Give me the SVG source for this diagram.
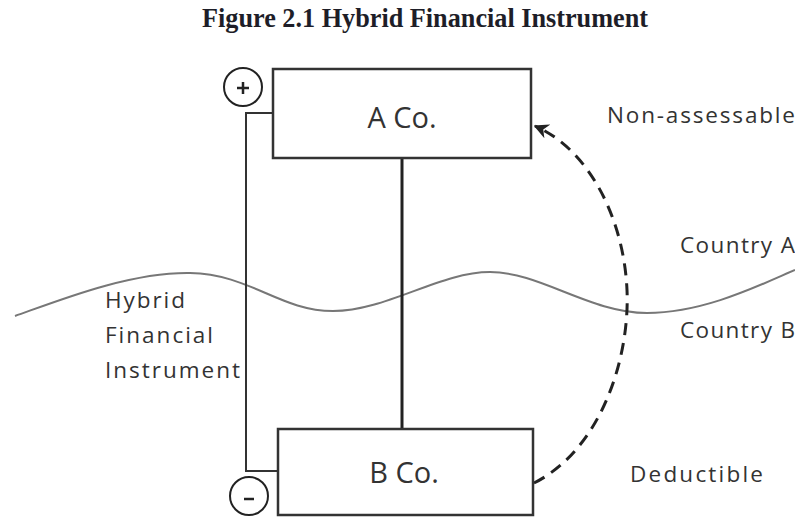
<svg xmlns="http://www.w3.org/2000/svg" width="795" height="517" viewBox="0 0 795 517">
<style>
.box{fill:#fff;stroke:#333;stroke-width:2.5}
.lbl{font-family:"Open Sans",Lato,"Liberation Sans",sans-serif;fill:#333;font-size:22.5px}
.big{font-family:"Open Sans",Lato,"Liberation Sans",sans-serif;fill:#333;font-size:29px}
.sign{fill:#fff;stroke:#222;stroke-width:2}
</style>
<defs>
<marker id="arr" viewBox="0 0 10 10" refX="9" refY="5" markerWidth="5" markerHeight="5" orient="auto" markerUnits="strokeWidth">
<path d="M0,0 L10,5 L0,10 L3,5 Z" fill="#222"/>
</marker>
</defs>
<rect width="795" height="517" fill="#fff"/>
<text x="425" y="27" text-anchor="middle" font-family="'Liberation Serif',serif" font-weight="bold" font-size="27" fill="#1e1e28" textLength="446" lengthAdjust="spacingAndGlyphs">Figure 2.1 Hybrid Financial Instrument</text>
<g id="border-wave">
<path d="M15,316 C60,300 130,272 190,273 S280,311 333,311 S440,272 490,272 S590,313 647,313 S760,285 795,270" fill="none" stroke="#777" stroke-width="2"/>
</g>
<g id="connectors">
<line x1="402" y1="158" x2="402" y2="429" stroke="#222" stroke-width="3"/>
<polyline points="273,113 246,113 246,471 278,471" fill="none" stroke="#333" stroke-width="2"/>
<path d="M534,483 C600,450 630,360 627,290 C624,220 590,150 535,126" fill="none" stroke="#222" stroke-width="3" stroke-dasharray="12,8" marker-end="url(#arr)"/>
</g>
<g id="a-co">
<rect class="box" x="273" y="69" width="258" height="89"/>
<text class="big" x="402" y="128" text-anchor="middle">A Co.</text>
</g>
<g id="b-co">
<rect class="box" x="278" y="429" width="255" height="86"/>
<text class="big" x="404" y="483" text-anchor="middle">B Co.</text>
</g>
<g id="plus">
<circle class="sign" cx="243" cy="87" r="19"/>
<path d="M237,88 H249 M243,82 V94" stroke="#222" stroke-width="2.5"/>
</g>
<g id="minus">
<circle class="sign" cx="249" cy="496" r="19"/>
<path d="M244,499 H254" stroke="#222" stroke-width="2.5"/>
</g>
<g id="labels">
<text class="lbl" x="607" y="123" textLength="188" lengthAdjust="spacing">Non-assessable</text>
<text class="lbl" x="680" y="253" textLength="115" lengthAdjust="spacing">Country A</text>
<text class="lbl" x="680" y="338" textLength="115" lengthAdjust="spacing">Country B</text>
<text class="lbl" x="630" y="482" textLength="133" lengthAdjust="spacing">Deductible</text>
<text class="lbl" x="105" y="308" textLength="80" lengthAdjust="spacing">Hybrid</text>
<text class="lbl" x="105" y="343" textLength="108" lengthAdjust="spacing">Financial</text>
<text class="lbl" x="105" y="378" textLength="135" lengthAdjust="spacing">Instrument</text>
</g>
</svg>
